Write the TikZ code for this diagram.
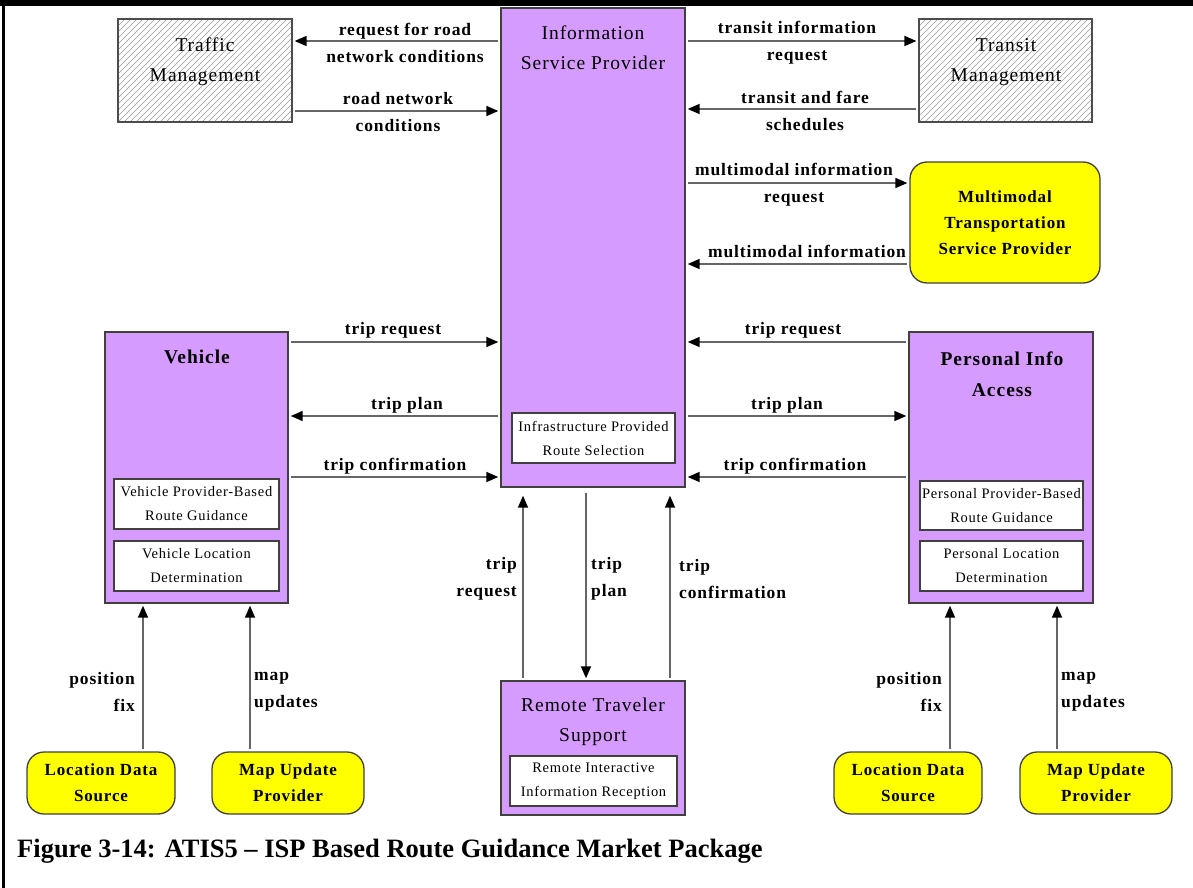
\documentclass[tikz,border=0pt]{standalone}
\usepackage{fontspec}
\setmainfont{Liberation Serif}
\newfontfamily\lsp[LetterSpace=5]{Liberation Serif}
\usetikzlibrary{arrows.meta}
\definecolor{ispurple}{RGB}{214,155,255}
\definecolor{isyellow}{RGB}{255,255,0}
\tikzset{
  pbox/.style={draw=black!75, line width=1.4pt, fill=ispurple, inner sep=0pt},
  wbox/.style={draw=black!75, line width=1.3pt, fill=white, inner sep=0pt, align=center,
    font=\lsp\fontsize{14.5}{24}\selectfont},
  hbox/.style={draw=black!70, line width=1.2pt, fill=white, inner sep=0pt,
    path picture={\foreach \i in {0,6,...,300}
      \draw[black!40, line width=0.6pt] (path picture bounding box.south west) ++(\i-120,0) -- ++(150,-150);}},
  ybox/.style={draw=black!75, line width=1.3pt, fill=isyellow, rounded corners=17pt, inner sep=0pt,
    align=center, font=\lsp\bfseries\fontsize{17}{26}\selectfont},
  ttl/.style={inner sep=0pt, align=center, font=\lsp\fontsize{19.5}{30}\selectfont},
  bttl/.style={inner sep=0pt, align=center, font=\lsp\bfseries\fontsize{19.5}{31}\selectfont},
  lbl/.style={inner sep=0pt, align=center, font=\lsp\bfseries\fontsize{17.5}{27}\selectfont},
  arr/.style={draw=black!60, line width=1.6pt, shorten >=2pt, shorten <=2pt,
    -{Triangle[length=12pt,width=10pt,color=black]}},
}
\begin{document}
\begin{tikzpicture}[x=1pt,y=-1pt]
\useasboundingbox (0,0) rectangle (1193,888);
\fill[black] (0,0) rectangle (1193,6);
\fill[black] (2,0) rectangle (5,888);

% main boxes
\node[pbox, minimum width=184, minimum height=479] (isp) at (593,247.5) {};
\node[ttl] (ispt) at (593,48) {Information\\Service Provider};
\node[wbox, minimum width=163, minimum height=50] (ispin) at (593.5,438) {Infrastructure Provided\\Route Selection};

\node[hbox, minimum width=174, minimum height=103] (tm) at (205,70.5) {};
\node[ttl] (tmt) at (205,62) {Traffic\\Management};
\node[hbox, minimum width=173, minimum height=103] (trm) at (1005.5,70.5) {};
\node[ttl] (trmt) at (1006,62) {Transit\\Management};

\node[ybox, minimum width=190, minimum height=121] (mtsp) at (1005,222.5) {Multimodal\\Transportation\\Service Provider};

\node[pbox, minimum width=183, minimum height=271] (veh) at (196.5,467.5) {};
\node[bttl] (veht) at (197,357) {Vehicle};
\node[wbox, minimum width=165, minimum height=50] (veh1) at (196.5,504) {Vehicle Provider-Based\\Route Guidance};
\node[wbox, minimum width=165, minimum height=50] (veh2) at (196.5,566) {Vehicle Location\\Determination};

\node[pbox, minimum width=184, minimum height=271] (pia) at (1001,467.5) {};
\node[bttl] (piat) at (1002,374) {Personal Info\\Access};
\node[wbox, minimum width=163, minimum height=49] (pia1) at (1001.5,505.5) {Personal Provider-Based\\Route Guidance};
\node[wbox, minimum width=163, minimum height=50] (pia2) at (1001.5,566) {Personal Location\\Determination};

\node[pbox, minimum width=184, minimum height=134] (rts) at (593,748) {};
\node[ttl] (rtst) at (593,722) {Remote Traveler\\Support};
\node[wbox, minimum width=167, minimum height=50] (rts1) at (593.5,781) {Remote Interactive\\Information Reception};

\node[ybox, minimum width=148, minimum height=62] (lds1) at (101,783) {Location Data\\Source};
\node[ybox, minimum width=152, minimum height=62] (mup1) at (288,783) {Map Update\\Provider};
\node[ybox, minimum width=148, minimum height=62] (lds2) at (908,783) {Location Data\\Source};
\node[ybox, minimum width=152, minimum height=62] (mup2) at (1096,783) {Map Update\\Provider};

% top connectors
\draw[arr] (isp.west |- 0,41) -- (tm.east |- 0,41);
\node[lbl] (l1) at (405,42.5) {request for road\\network conditions};
\draw[arr] (tm.east |- 0,111) -- (isp.west |- 0,111);
\node[lbl] (l2) at (398,112.5) {road network\\conditions};
\draw[arr] (isp.east |- 0,41) -- (trm.west |- 0,41);
\node[lbl] (l3) at (797,42.5) {transit information\\request};
\draw[arr] (trm.west |- 0,109) -- (isp.east |- 0,109);
\node[lbl] (l4) at (805,111) {transit and fare\\schedules};
\draw[arr] (isp.east |- 0,183) -- (mtsp.west |- 0,183);
\node[lbl] (l5) at (794,185) {multimodal information\\request};
\draw[arr] (mtsp.west |- 0,264) -- (isp.east |- 0,264);
\node[lbl, anchor=base] (l6) at (807,257) {multimodal information};

% vehicle connectors
\draw[arr] (veh.east |- 0,342) -- (isp.west |- 0,342);
\node[lbl, anchor=base] (l7) at (393,334) {trip request};
\draw[arr] (isp.west |- 0,416) -- (veh.east |- 0,416);
\node[lbl, anchor=base] (l8) at (407,409) {trip plan};
\draw[arr] (veh.east |- 0,477) -- (isp.west |- 0,477);
\node[lbl, anchor=base] (l9) at (395,470) {trip confirmation};

% personal connectors
\draw[arr] (pia.west |- 0,342) -- (isp.east |- 0,342);
\node[lbl, anchor=base] (l10) at (793,334) {trip request};
\draw[arr] (isp.east |- 0,416) -- (pia.west |- 0,416);
\node[lbl, anchor=base] (l11) at (787,409) {trip plan};
\draw[arr] (pia.west |- 0,477) -- (isp.east |- 0,477);
\node[lbl, anchor=base] (l12) at (795,470) {trip confirmation};

% remote traveler connectors
\draw[arr, shorten >=8pt] (rts.north -| 523,0) -- (isp.south -| 523,0);
\node[lbl, align=right, anchor=east] (l13) at (517,579) {trip\\request};
\draw[arr, shorten <=5pt] (isp.south -| 586,0) -- (rts.north -| 586,0);
\node[lbl, align=left, anchor=west] (l14) at (591,579) {trip\\plan};
\draw[arr, shorten >=8pt] (rts.north -| 670,0) -- (isp.south -| 670,0);
\node[lbl, align=left, anchor=west] (l15) at (679,579) {trip\\confirmation};

% bottom connectors
\draw[arr] (lds1.north -| 143,0) -- (veh.south -| 143,0);
\node[lbl, align=right, anchor=east] (l16) at (135,692) {position\\fix};
\draw[arr] (mup1.north -| 250,0) -- (veh.south -| 250,0);
\node[lbl, align=left, anchor=west] (l17) at (254,692) {map\\updates};
\draw[arr] (lds2.north -| 950,0) -- (pia.south -| 950,0);
\node[lbl, align=right, anchor=east] (l18) at (942,692) {position\\fix};
\draw[arr] (mup2.north -| 1057,0) -- (pia.south -| 1057,0);
\node[lbl, align=left, anchor=west] (l19) at (1061,692) {map\\updates};

\node[anchor=base west, inner sep=0pt, font=\bfseries\fontsize{26.5}{30}\selectfont] (cap) at (17,857)
  {Figure 3-14: ATIS5 -- ISP Based Route Guidance Market Package};
\end{tikzpicture}
\end{document}
